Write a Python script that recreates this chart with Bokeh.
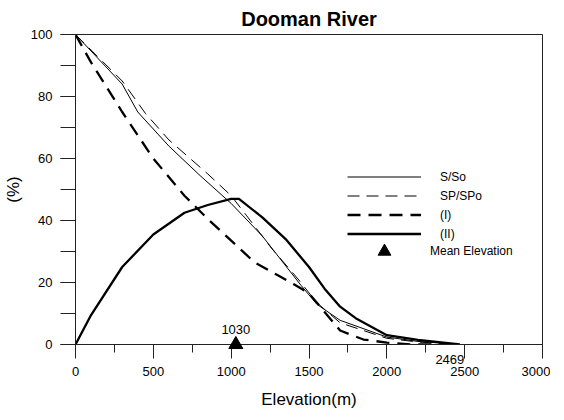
from bokeh.plotting import figure
from bokeh.models import Range1d, SingleIntervalTicker, Legend, LegendItem, Label
from bokeh.core.properties import value
from bokeh.embed import file_html
from bokeh.resources import INLINE

# ---- data ----
s_elev = [0, 300, 400, 600, 800, 1000, 1200, 1450, 1550, 1700, 2000, 2200, 2469]
s_vals = [100, 84, 75, 64, 54.5, 45.5, 35, 19, 13, 7.8, 2.4, 1.0, 0]

sp_elev = [0, 100, 300, 450, 600, 850, 1000, 1100, 1260, 1435, 1550, 1700, 2000, 2200, 2469]
sp_vals = [100, 95, 85, 74.5, 66, 55, 48, 41.5, 31, 20.8, 13.5, 7.0, 2.0, 0.8, 0]

i_elev = [0, 100, 300, 500, 700, 850, 1000, 1150, 1300, 1400, 1500, 1600, 1700, 1850, 2000, 2150, 2469]
i_vals = [100, 91, 75, 60, 48, 40.5, 33.5, 26.5, 22.3, 19.5, 16.5, 10.5, 4.5, 1.6, 0.6, 0, 0]

ii_elev = [0, 100, 300, 500, 700, 850, 1000, 1050, 1200, 1350, 1500, 1600, 1700, 1800, 2000, 2200, 2469]
ii_vals = [0, 9.5, 25, 35.5, 42.5, 45, 47, 47, 41, 34, 25, 18, 12.2, 8.5, 3, 1.5, 0]

mean_elev = [1030]
mean_y = [0]
max_elev = [2469]
max_y = [0]

FONT = "Liberation Sans"
AX = "#222222"

p = figure(width=550, height=412, output_backend="svg", toolbar_location=None,
           x_range=Range1d(0, 3000), y_range=Range1d(0, 100),
           min_border_left=73, min_border_right=8, min_border_top=32, min_border_bottom=68,
           title="Dooman River")
p.title.align = "center"
p.title.text_font = FONT
p.title.text_font_size = "20px"
p.title.text_font_style = "bold"
p.title.text_color = "black"

p.xgrid.visible = False
p.ygrid.visible = False
p.outline_line_color = AX
p.outline_line_width = 1

xa = p.xaxis[0]
xa.ticker = SingleIntervalTicker(interval=500, num_minor_ticks=2)
xa.major_tick_out = 14
xa.major_tick_in = 0
xa.minor_tick_out = 8
xa.minor_tick_in = 0
xa.major_label_standoff = 8
xa.axis_label = "Elevation(m)"
xa.axis_label_standoff = 11

ya = p.yaxis[0]
ya.ticker = SingleIntervalTicker(interval=20, num_minor_ticks=2)
ya.major_tick_out = 15
ya.major_tick_in = 0
ya.minor_tick_out = 15
ya.minor_tick_in = 0
ya.major_label_standoff = 8
ya.axis_label = "(%)"
ya.axis_label_standoff = 5

for ax in (xa, ya):
    ax.axis_line_color = AX
    ax.major_tick_line_color = AX
    ax.minor_tick_line_color = AX
    ax.major_label_text_font = FONT
    ax.major_label_text_font_size = "13px"
    ax.major_label_text_color = "black"
    ax.axis_label_text_font = FONT
    ax.axis_label_text_font_size = "17px"
    ax.axis_label_text_font_style = "normal"
    ax.axis_label_text_color = "black"

r_s = p.line(s_elev, s_vals, line_color="black", line_width=1)
r_sp = p.line(sp_elev, sp_vals, line_color="black", line_width=1, line_dash="12 7")
r_i = p.line(i_elev, i_vals, line_color="black", line_width=2.3, line_dash="13 8")
r_ii = p.line(ii_elev, ii_vals, line_color="black", line_width=2.3)
r_m = p.scatter(mean_elev, mean_y, marker="triangle", size=14, fill_color="black", line_color="black",
                level="overlay")

p.add_layout(Label(x=mean_elev[0], y=mean_y[0], text=str(mean_elev[0]), y_offset=15,
                   text_align="center", text_baseline="middle", text_font=FONT,
                   text_font_size="13px", text_color="black"))
p.text(x=max_elev, y=max_y, text=[str(v) for v in max_elev], x_offset=-10, y_offset=15,
       text_align="center", text_baseline="middle", text_font=value(FONT),
       text_font_size="13px", text_color="black", level="overlay")

leg1 = Legend(items=[LegendItem(label="S/So", renderers=[r_s]),
                     LegendItem(label="SP/SPo", renderers=[r_sp]),
                     LegendItem(label="(I)", renderers=[r_i]),
                     LegendItem(label="(II)", renderers=[r_ii])],
              location=(272, 101), glyph_width=74, glyph_height=19, label_height=19,
              spacing=0, padding=0, margin=0, label_standoff=19,
              border_line_color=None, background_fill_alpha=0,
              label_text_font=FONT, label_text_font_size="12px", label_text_color="black")
leg2 = Legend(items=[LegendItem(label="Mean Elevation", renderers=[r_m])],
              location=(272, 77), glyph_width=74, glyph_height=32, label_height=32,
              spacing=0, padding=0, margin=0, label_standoff=9,
              border_line_color=None, background_fill_alpha=0,
              label_text_font=FONT, label_text_font_size="12px", label_text_color="black")
p.add_layout(leg1)
p.add_layout(leg2)

open("out.html", "w").write(file_html(p, INLINE))
